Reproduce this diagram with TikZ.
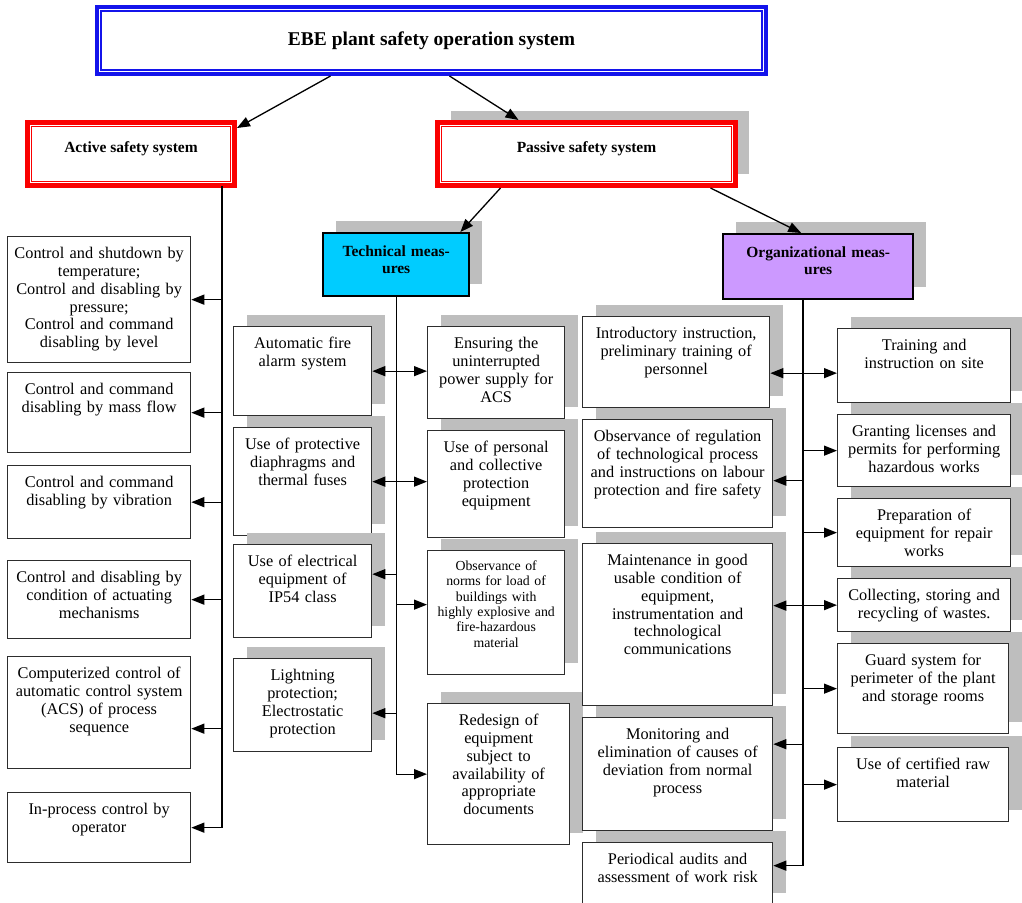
\documentclass[tikz,border=0pt]{standalone}
\usepackage{fontspec}
\setmainfont{Liberation Serif}
\usetikzlibrary{arrows.meta, shadows}
\definecolor{ebeblue}{RGB}{20, 20, 235}
\definecolor{ebered}{RGB}{250, 0, 0}
\definecolor{techcyan}{RGB}{0, 204, 255}
\definecolor{orgviolet}{RGB}{204, 153, 255}
\definecolor{shadegray}{RGB}{190, 190, 190}
\definecolor{boxline}{RGB}{45, 45, 45}

\begin{document}
\begin{tikzpicture}[
        x=1pt, y=-1pt,
        greyshadow/.style={drop shadow={shadow xshift=13pt, shadow yshift=12pt, fill=shadegray, opacity=1}},
        tbox/.style={rectangle, draw=boxline, line width=1.3pt, fill=white, anchor=north west, align=center, inner xsep=2pt, inner ysep=0pt, text height=22pt, font=\fontsize{16.3}{17.8}\selectfont},
        sbox/.style={tbox, greyshadow},
        headbox/.style={sbox, draw=black, line width=2.4pt, text height=23pt, font=\fontsize{15.5}{17}\selectfont\bfseries},
        redbox/.style={rectangle, draw=ebered, line width=5pt, fill=white, inner sep=0pt, text height=29.5pt, text depth=33.5pt, font=\fontsize{15.5}{17}\selectfont\bfseries},
        innerline/.style={line width=1.2pt},
        arrow/.style={-{Triangle[length=13pt, width=10pt]}, line width=1.3pt},
        dblarrow/.style={{Triangle[length=13pt, width=10pt]}-{Triangle[length=13pt, width=10pt]}, line width=1.3pt}
    ]
    \useasboundingbox (0,0) rectangle (1022,902);

    % top of the tree
    \node[draw=ebeblue, line width=4pt, fill=white, minimum width=669pt, inner sep=0pt, text height=38pt, text depth=29pt, font=\fontsize{19.5}{21}\selectfont\bfseries] (title) at (431.5,40.5) {EBE plant safety operation system};
    \node[redbox, minimum width=207pt] (act) at (131,154) {Active safety system};
    \node[redbox, greyshadow, minimum width=298pt] (pas) at (586.5,154) {Passive safety system};
    \draw[innerline, ebeblue, line width=1.8pt] ([shift={(6,6)}]title.north west) rectangle ([shift={(-6,-6)}]title.south east);
    \draw[innerline, ebered] ([shift={(6.5,6.5)}]act.north west) rectangle ([shift={(-6.5,-6.5)}]act.south east);
    \draw[innerline, ebered] ([shift={(6.5,6.5)}]pas.north west) rectangle ([shift={(-6.5,-6.5)}]pas.south east);

    % active safety system
    \node[tbox, text width=179pt, text depth=104pt] (a1) at (7,236) {Control and shutdown by\\temperature;\\Control and disabling by\\pressure;\\Control and command\\disabling by level};
    \node[tbox, text width=179pt, text depth=58pt] (a2) at (7,372) {Control and command\\disabling by mass flow};
    \node[tbox, text width=179pt, text depth=51pt] (a3) at (7,465) {Control and command\\disabling by vibration};
    \node[tbox, text width=179pt, text depth=56pt] (a4) at (7,560) {Control and disabling by\\condition of actuating\\mechanisms};
    \node[tbox, text width=179pt, text depth=90pt] (a5) at (7,656) {Computerized control of\\automatic control system\\(ACS) of process\\sequence};
    \node[tbox, text width=179pt, text depth=48pt] (a6) at (7,792) {In-process control by\\operator};

    % technical measures
    \node[headbox, fill=techcyan, text width=142pt, text depth=40pt] (tech) at (322,232) {Technical meas-\\ures};
    \node[sbox, text width=134pt, text depth=67pt] (t1) at (233,326) {Automatic fire\\alarm system};
    \node[sbox, text width=134pt, text depth=86pt] (t2) at (233,427) {Use of protective\\diaphragms and\\thermal fuses};
    \node[sbox, text width=134pt, text depth=71pt] (t3) at (233,544) {Use of electrical\\equipment of\\IP54 class};
    \node[sbox, text width=134pt, text depth=71pt] (t4) at (233,658) {Lightning\\protection;\\Electrostatic\\protection};
    \node[sbox, text width=133pt, text depth=70pt] (r1) at (427,326) {Ensuring the\\uninterrupted\\power supply for\\ACS};
    \node[sbox, text width=133pt, text depth=85pt] (r2) at (427,430) {Use of personal\\and collective\\protection\\equipment};
    \node[sbox, text width=133pt, text height=20pt, text depth=104pt, font=\fontsize{13.8}{15.3}\selectfont] (r3) at (427,550) {Observance of\\norms for load of\\buildings with\\highly explosive and\\fire-hazardous\\material};
    \node[sbox, text width=138pt, text depth=119pt] (r4) at (427,703) {Redesign of\\equipment\\subject to\\availability of\\appropriate\\documents};

    % organizational measures
    \node[headbox, fill=orgviolet, text width=186pt, text depth=42pt] (org) at (722,233) {Organizational meas-\\ures};
    \node[sbox, text width=183pt, text depth=69pt] (o1) at (582,316) {Introductory instruction,\\preliminary training of\\personnel};
    \node[sbox, text width=186pt, text depth=86pt] (o2) at (582,419) {Observance of regulation\\of technological process\\and instructions on labour\\protection and fire safety};
    \node[sbox, text width=186pt, text depth=140pt] (o3) at (582,543) {Maintenance in good\\usable condition of\\equipment,\\instrumentation and\\technological\\communications};
    \node[sbox, text width=186pt, text depth=91pt] (o4) at (582,717) {Monitoring and\\elimination of causes of\\deviation from normal\\process};
    \node[sbox, text width=186pt, text depth=40pt] (o5) at (582,842) {Periodical audits and\\assessment of work risk};
    \node[sbox, text width=169pt, text depth=52pt] (or1) at (837,328) {Training and\\instruction on site};
    \node[sbox, text width=169pt, text depth=50pt] (or2) at (837,414) {Granting licenses and\\permits for performing\\hazardous works};
    \node[sbox, text width=169pt, text depth=46pt] (or3) at (837,498) {Preparation of\\equipment for repair\\works};
    \node[sbox, text width=169pt, text depth=31pt] (or4) at (837,578) {Collecting, storing and\\recycling of wastes.};
    \node[sbox, text width=167pt, text depth=68pt] (or5) at (837,643) {Guard system for\\perimeter of the plant\\and storage rooms};
    \node[sbox, text width=167pt, text depth=52pt] (or6) at (837,747) {Use of certified raw\\material};

    % top level arrows
    \draw[arrow] ([xshift=-101pt]title.south) -- ([yshift=-8pt]act.north east);
    \draw[arrow] ([xshift=18pt]title.south) -- ([xshift=-68pt]pas.north);
    \draw[arrow] ([xshift=-86pt]pas.south) -- ([xshift=-10pt]tech.north east);
    \draw[arrow] ([xshift=124pt]pas.south) -- ([xshift=-17pt]org.north);

    % active branch
    \coordinate (abus) at (222,186);
    \draw[arrow] (abus) |- (a6.east);
    \foreach \n in {a1,a2,a3,a4}
        \draw[arrow] (\n.east -| abus) -- (\n.east);
    \draw[arrow] ([yshift=-16pt]a5.east -| abus) -- ([yshift=-16pt]a5.east);

    % technical branch
    \draw[arrow] (tech.south) |- (r4.west);
    \draw[dblarrow] (t1.east) -- (t1.east -| r1.west);
    \draw[dblarrow] (t2.east) -- (t2.east -| r2.west);
    \draw[arrow] ([yshift=17pt]t3.east -| tech.south) -- ([yshift=17pt]t3.east);
    \draw[arrow] ([yshift=8pt]r3.west -| tech.south) -- ([yshift=8pt]r3.west);
    \draw[arrow] ([yshift=-8pt]t4.east -| tech.south) -- ([yshift=-8pt]t4.east);

    % organizational branch
    \coordinate (obus) at (803,298);
    \draw[arrow] (obus) |- ([yshift=8pt]o5.east);
    \draw[dblarrow] ([yshift=-11pt]o1.east) -- ([yshift=-11pt]o1.east -| or1.west);
    \draw[arrow] ([yshift=-7pt]o2.east -| obus) -- ([yshift=-7pt]o2.east);
    \draw[arrow] ([yshift=19pt]o3.east -| obus) -- ([yshift=19pt]o3.east);
    \draw[arrow] ([yshift=30pt]o4.east -| obus) -- ([yshift=30pt]o4.east);
    \foreach \n in {or2,or3,or4,or5,or6}
        \draw[arrow] (\n.west -| obus) -- (\n.west);
\end{tikzpicture}
\end{document}
